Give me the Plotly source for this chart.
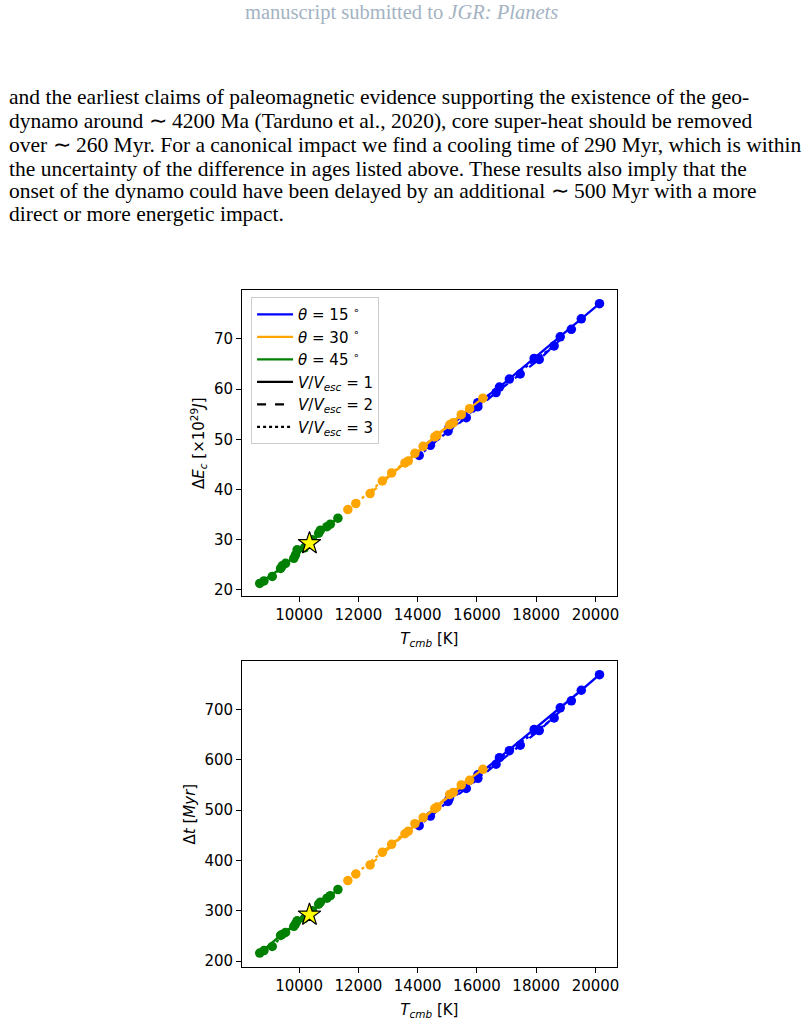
import plotly.graph_objects as go

# ---------------- data ----------------
theta_labels = ["15", "30", "45"]
theta_colors = ["#0000ff", "#ffa500", "#008000"]
vel_labels = ["1", "2", "3"]
vel_dash = ["solid", "dash", "dot"]

# theta = 15 deg (blue)
t15_v1 = [15060, 16030, 16760, 17930, 18810, 19520, 20135]
e15_v1 = [52.4, 57.3, 60.4, 66.1, 70.4, 74.0, 77.0]
d15_v1 = [522, 570, 604, 660, 703, 738, 769]
t15_v2 = [14430, 15640, 16645, 17460, 18101, 19185]
e15_v2 = [48.8, 54.3, 59.3, 63.0, 65.9, 71.9]
d15_v2 = [488, 543, 591, 629, 658, 717]
t15_v3 = [14051, 15024, 16031, 17094, 18604]
e15_v3 = [46.8, 51.6, 56.5, 62.0, 68.6]
d15_v3 = [469, 517, 563, 618, 683]

# theta = 30 deg (orange)
t30_v1 = [12809, 13682, 14577, 15470, 16199]
e30_v1 = [41.7, 45.7, 50.5, 54.9, 58.2]
d30_v1 = [416, 458, 503, 550, 581]
t30_v2 = [12396, 13571, 14185, 15081, 15752]
e30_v2 = [39.2, 45.3, 48.6, 52.9, 56.1]
d30_v2 = [391, 453, 485, 531, 559]
t30_v3 = [11645, 11913, 13121, 13906, 14650, 15200]
e30_v3 = [36.0, 37.2, 43.3, 47.2, 50.8, 53.3]
d30_v3 = [360, 373, 432, 473, 506, 535]

# theta = 45 deg (green)
t45_v1 = [8671, 9376, 9879, 10330, 10940, 11309]
e45_v1 = [21.3, 24.3, 27.0, 29.1, 32.6, 34.3]
d45_v1 = [216, 251, 274, 292, 325, 342]
t45_v2 = [8815, 9430, 9933, 10450, 11054]
e45_v2 = [21.8, 24.8, 28.0, 30.0, 33.1]
d45_v2 = [221, 253, 280, 300, 330]
t45_v3 = [9095, 9544, 9822, 10180, 10661, 10718]
e45_v3 = [22.7, 25.3, 26.3, 28.4, 31.3, 31.9]
d45_v3 = [229, 257, 269, 285, 313, 317]

# canonical impact (star)
star_t = [10350]
star_e = [29.3]
star_d = [292]

x_ticks = [10000, 12000, 14000, 16000, 18000, 20000]
x_tick_text = ["10000", "12000", "14000", "16000", "18000", "20000"]
e_ticks = [20, 30, 40, 50, 60, 70]
d_ticks = [200, 300, 400, 500, 600, 700]

header = "manuscript submitted to <i>JGR: Planets</i>"
body_lines = [
    "and the earliest claims of paleomagnetic evidence supporting the existence of the geo-",
    "dynamo around ∼ 4200 Ma (Tarduno et al., 2020), core super-heat should be removed",
    "over ∼ 260 Myr. For a canonical impact we find a cooling time of 290 Myr, which is within",
    "the uncertainty of the difference in ages listed above. These results also imply that the",
    "onset of the dynamo could have been delayed by an additional ∼ 500 Myr with a more",
    "direct or more energetic impact.",
]

series = [
    (0, 0, t15_v1, e15_v1, d15_v1), (0, 1, t15_v2, e15_v2, d15_v2), (0, 2, t15_v3, e15_v3, d15_v3),
    (1, 0, t30_v1, e30_v1, d30_v1), (1, 1, t30_v2, e30_v2, d30_v2), (1, 2, t30_v3, e30_v3, d30_v3),
    (2, 0, t45_v1, e45_v1, d45_v1), (2, 1, t45_v2, e45_v2, d45_v2), (2, 2, t45_v3, e45_v3, d45_v3),
]

# ---------------- figure ----------------
W, H = 809, 1022
fig = go.Figure()

def px_x(p):
    return p / W

def px_y(p):
    return 1 - p / H

for ti, vi, tt, ee, dd in series:
    for yv, xa, ya in ((ee, "x", "y"), (dd, "x2", "y2")):
        fig.add_trace(go.Scatter(
            x=tt, y=yv, xaxis=xa, yaxis=ya, mode="lines+markers",
            line=dict(color=theta_colors[ti], width=2.3, dash=vel_dash[vi]),
            marker=dict(color=theta_colors[ti], size=9.5, line=dict(width=0)),
            showlegend=False, hoverinfo="skip"))

for yv, xa, ya in ((star_e, "x", "y"), (star_d, "x2", "y2")):
    fig.add_trace(go.Scatter(
        x=star_t, y=yv, xaxis=xa, yaxis=ya, mode="markers",
        marker=dict(symbol="star", size=17, color="#ffff00", line=dict(color="black", width=1.2)),
        showlegend=False, hoverinfo="skip"))

# legend entries
for ti in range(3):
    fig.add_trace(go.Scatter(
        x=[None], y=[None], mode="lines", xaxis="x", yaxis="y",
        line=dict(color=theta_colors[ti], width=2.3),
        name="<i>θ</i> = " + theta_labels[ti] + " <sup>∘</sup>"))
for vi in range(3):
    fig.add_trace(go.Scatter(
        x=[None], y=[None], mode="lines", xaxis="x", yaxis="y",
        line=dict(color="black", width=2.3, dash=vel_dash[vi]),
        name="<i>V</i>/<i>V<sub>esc</sub></i> = " + vel_labels[vi]))

tick_font = dict(family="DejaVu Sans", size=15, color="black")
x_dom = [px_x(243), px_x(619)]
common_x = dict(range=[8077, 20715], tickvals=x_ticks, ticktext=x_tick_text,
                ticks="outside", ticklen=5,
                tickwidth=1, tickcolor="black", showline=True, linecolor="black",
                linewidth=1, mirror=True, showgrid=False, zeroline=False,
                tickfont=tick_font, domain=x_dom)
common_y = dict(ticks="outside", ticklen=5, tickwidth=1, tickcolor="black",
                showline=True, linecolor="black", linewidth=1, mirror=True,
                showgrid=False, zeroline=False, tickfont=tick_font)

fig.update_layout(
    width=W, height=H, margin=dict(l=0, r=0, t=0, b=0),
    paper_bgcolor="white", plot_bgcolor="white",
    showlegend=True,
    legend=dict(x=px_x(252), y=px_y(298), xanchor="left", yanchor="top",
                bgcolor="rgba(255,255,255,0.8)", bordercolor="#cccccc", borderwidth=1,
                font=dict(family="DejaVu Sans", size=15, color="black"),
                itemwidth=36, tracegroupgap=0),
    xaxis=dict(**common_x, anchor="y",
               title=dict(text="<i>T<sub>cmb</sub></i> [K]", font=tick_font, standoff=10)),
    yaxis=dict(**common_y, anchor="x", range=[18.75, 79.7], tickvals=e_ticks,
               domain=[px_y(598), px_y(291)],
               title=dict(text="Δ<i>E<sub>c</sub></i> [×10<sup>29</sup><i>J</i>]", font=tick_font, standoff=5)),
    xaxis2=dict(**common_x, anchor="y2",
                title=dict(text="<i>T<sub>cmb</sub></i> [K]", font=tick_font, standoff=10)),
    yaxis2=dict(**common_y, anchor="x2", range=[188, 796], tickvals=d_ticks,
                domain=[px_y(970), px_y(663)],
                title=dict(text="Δ<i>t</i> [<i>Myr</i>]", font=tick_font, standoff=5)),
)

annotations = [dict(text=header, x=px_x(403), y=px_y(13), xref="paper", yref="paper",
                    xanchor="center", yanchor="middle", showarrow=False,
                    font=dict(family="Liberation Serif", size=20.5, color="#a3b3c3"))]
line_y = [97, 121, 145, 169, 192, 215]
for txt, yy in zip(body_lines, line_y):
    annotations.append(dict(text=txt, x=px_x(7), y=px_y(yy), xref="paper", yref="paper",
                            xanchor="left", yanchor="middle", showarrow=False,
                            font=dict(family="Liberation Serif", size=21.5, color="black")))
fig.update_layout(annotations=annotations)

fig.write_html("out.html")
